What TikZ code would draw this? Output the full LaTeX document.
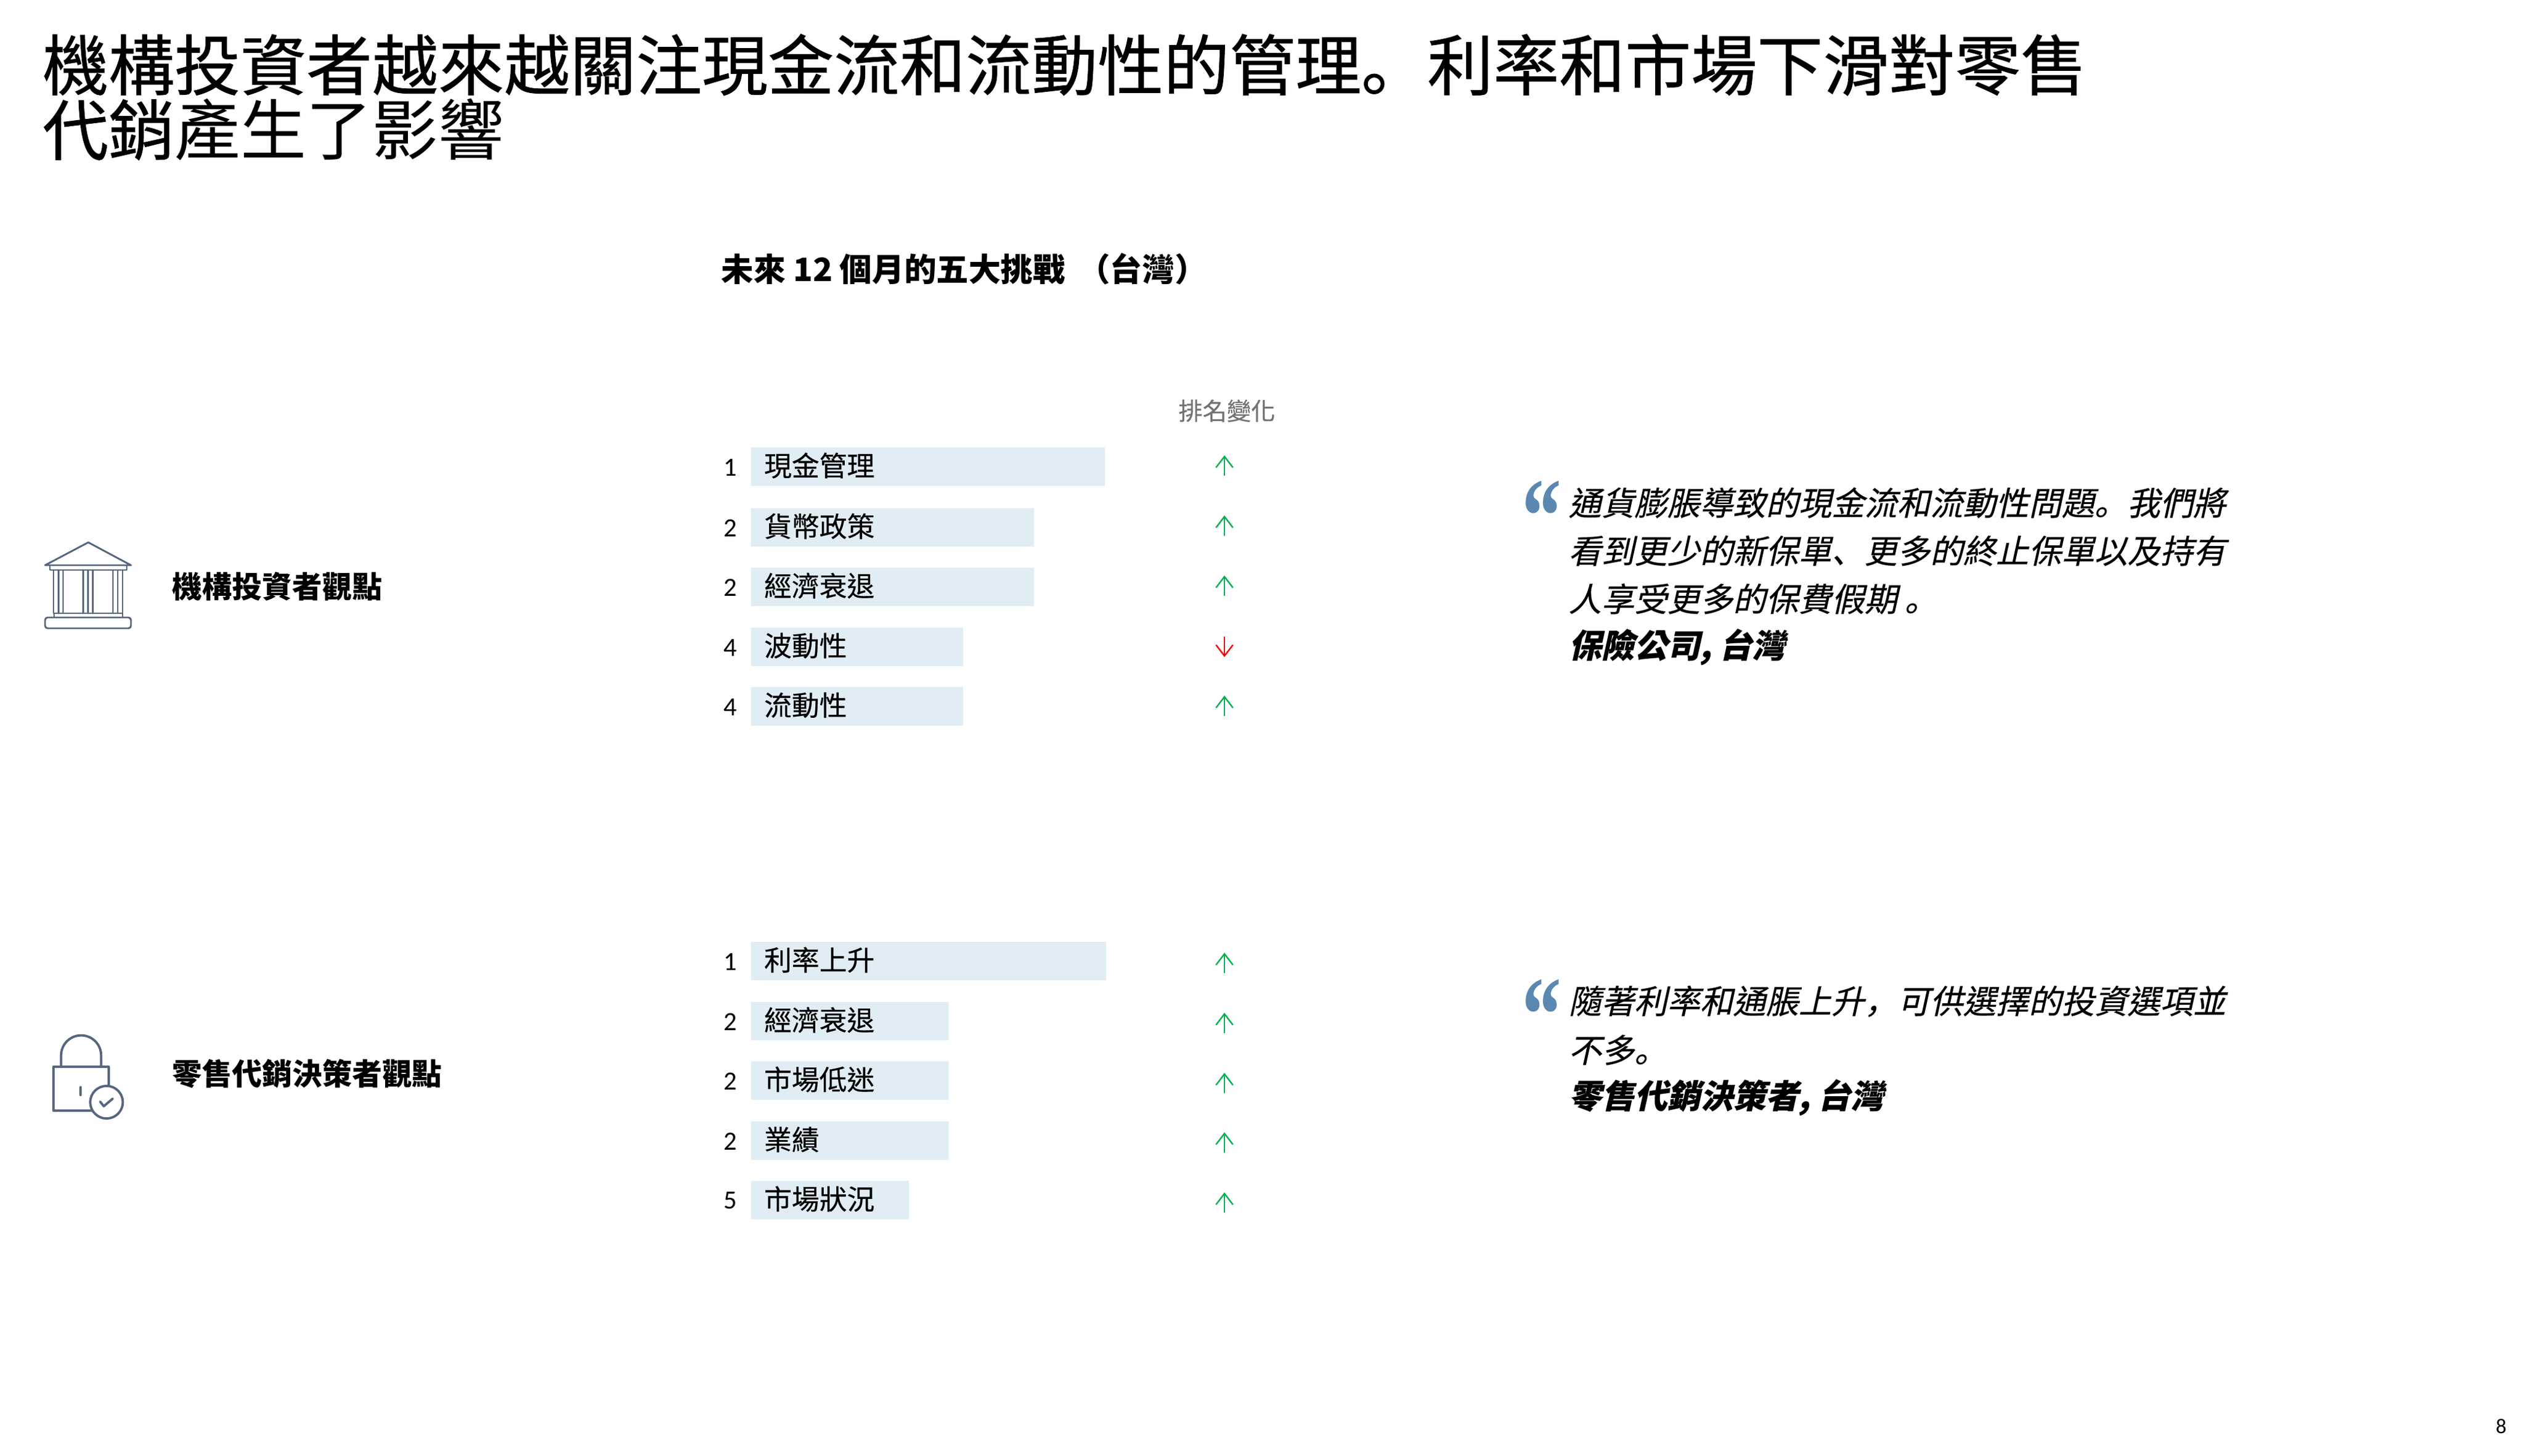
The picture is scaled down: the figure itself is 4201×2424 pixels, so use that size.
\documentclass[tikz,border=0pt]{standalone}
\usepackage{fontspec}
\usetikzlibrary{arrows.meta}
\setmainfont{Carlito}
\newfontfamily\cjk{Noto Sans CJK TC}
\newfontfamily\cjkm[FakeBold=0.4]{Noto Sans CJK TC}
\newfontfamily\cjkfb[FakeBold=0.7]{Noto Sans CJK TC}
\newfontfamily\cjkit[FakeSlant=0.22,FakeBold=0.4,BoldFeatures={FakeSlant=0.22}]{Noto Sans CJK TC}
\newfontfamily\cjkpun[FakeSlant=0.22,FakeBold=0.4]{Noto Sans CJK SC}
\newfontfamily\cjkpunt[FakeBold=0.7]{Noto Sans CJK SC}
\newfontfamily\qfont{Liberation Serif}
\definecolor{barfill}{HTML}{E1EDF5}
\definecolor{icon}{HTML}{56667F}
\definecolor{upc}{HTML}{00B050}
\definecolor{downc}{HTML}{FF0000}
\definecolor{quotec}{HTML}{5B88B0}
\tikzset{
  x=0.22852pt,y=-0.22852pt,
  titletext/.style={anchor=west,inner sep=0,font=\fontsize{25.08}{25}\selectfont\cjkfb},
  headtext/.style={anchor=west,inner sep=0,font=\fontsize{12.25}{14}\selectfont\cjk\bfseries},
  persptext/.style={anchor=west,inner sep=0,font=\fontsize{11.4}{14}\selectfont\cjk\bfseries},
  barbox/.style={anchor=west,fill=barfill,draw=none,minimum height=14.6pt,inner sep=0},
  bartext/.style={anchor=west,inner sep=0,font=\fontsize{10.5}{12}\selectfont\cjkm},
  ranktext/.style={anchor=center,inner sep=0,font=\fontsize{10}{12}\selectfont},
  quotetext/.style={anchor=west,inner sep=0,font=\fontsize{12.5}{14}\selectfont\cjkit},
  quotesrc/.style={anchor=west,inner sep=0,font=\fontsize{12.5}{14}\selectfont\cjkit\bfseries},
  quotemark/.style={anchor=center,inner sep=0,text=quotec,font=\fontsize{34}{34}\selectfont\qfont\bfseries},
  uparrow/.style={draw=upc,line width=0.55pt,-{Straight Barb[length=4.2pt,width=6.4pt,line width=0.55pt]}},
  downarrow/.style={draw=downc,line width=0.55pt,-{Straight Barb[length=4.2pt,width=6.4pt,line width=0.55pt]}},
  iconline/.style={draw=icon,line width=0.68pt,line join=round,line cap=round},
}
\begin{document}
\begin{tikzpicture}
\useasboundingbox (0,0) rectangle (4201,2424);
% title
\node[titletext] (t1) at (70,108) {機構投資者越來越關注現金流和流動性的管理{\cjkpunt 。}利率和市場下滑對零售};
\node[titletext] (t2) at (70,216) {代銷{\cjk 產生了影響}};
% heading
\node[headtext] (h) at (1200,448) {未來 12 個月的五大挑戰\hspace{2pt} （台灣）};
\node[anchor=center,inner sep=0,text=black!55,font=\fontsize{9.2}{11}\selectfont\cjkm] (rk) at (2042,684) {排名變化};
% perspectives
\node[persptext] (p1) at (286,976) {機構投資者觀點};
\node[persptext] (p2) at (286,1788) {零售代銷決策者觀點};
% bars
\foreach \n/\yy/\xe/\rank/\lab in {a1/777/1838/1/現金管理,a2/878/1720/2/貨幣政策,a3/977/1720/2/經濟衰退,a4/1077/1602/4/波動性,a5/1176/1602/4/流動性,
 b1/1600/1840/1/利率上升,b2/1700/1578/2/經濟衰退,b3/1799/1578/2/市場低迷,b4/1899/1578/2/業績,b5/1998/1512/5/市場狀況}{
  \pgfmathsetlengthmacro{\barw}{(\xe-1249)*0.22852pt}
  \node[barbox,minimum width=\barw] (\n) at (1249,\yy) {};
  \node[ranktext] (\n r) at (1216,\yy+1) {\rank};
  \node[bartext] (\n t) at (1271,\yy-2) {\lab};
}
% arrows
\foreach \yy in {792,892,992,1192,1620,1720,1820,1919,2019}{
  \coordinate (as) at (2038,\yy);
  \coordinate (ae) at (2038,\yy-34);
  \draw[uparrow] (as) -- (ae);
}
\coordinate (ds) at (2038,1060);
\coordinate (de) at (2038,1094);
\draw[downarrow] (ds) -- (de);
% quotes
\node[quotemark] (q1) at (2566,860) {\scalebox{0.88}[1.2]{“}};
\node[quotetext] (q1a) at (2610,837) {通貨膨脹導致的現金流和流動性問題{\cjkpun 。}我們將};
\node[quotetext] (q1b) at (2610,917) {看到更少的新保單{\cjkpun 、}更多的終止保單以及持有};
\node[quotetext] (q1c) at (2610,997) {人享受更多的保費假期 {\cjkpun 。}};
\node[quotesrc] (q1d) at (2610,1077) {保險公司, 台灣};
\node[quotemark] (q2) at (2566,1690) {\scalebox{0.88}[1.2]{“}};
\node[quotetext] (q2a) at (2610,1667) {隨著利率和通脹上升{\cjkpun ，}可供選擇的投資選項並};
\node[quotetext] (q2b) at (2610,1748) {不多{\cjkpun 。}};
\node[quotesrc] (q2c) at (2610,1827) {零售代銷決策者, 台灣};
% page number
\node[anchor=center,inner sep=0,font=\fontsize{8}{10}\selectfont] (pg) at (4163,2375) {8};
% bank icon
\draw[iconline] (75,941) -- (147,903) -- (218,941) -- cycle;
\draw[iconline] (83,941) rectangle (211,949);
\foreach \cx in {89,97.3,105,138.7,146.7,154.7,188,196,204}{
  \draw[iconline] (\cx,949) -- (\cx,1021);
}
\draw[iconline] (90,1021) -- (204,1021) -- (204,1028) -- (90,1028) -- cycle;
\draw[iconline,rounded corners=1pt] (75,1028) rectangle (218,1046);
% lock icon
\draw[iconline,line width=0.9pt] (101.7,1776) -- (101.7,1757) arc[start angle=180,end angle=0,x radius=33.3,y radius=-33.3] -- (168.3,1776);
\draw[iconline,line width=0.9pt] (89,1776) rectangle (181,1849);
\draw[iconline,line width=0.9pt] (134.3,1810) -- (134.3,1823);
\draw[iconline,line width=0.9pt,fill=white] (177.3,1835) circle[radius=6.2pt];
\draw[iconline,line width=0.9pt] (166.7,1834) -- (172.7,1841.7) -- (187.7,1829);
\end{tikzpicture}
\end{document}
